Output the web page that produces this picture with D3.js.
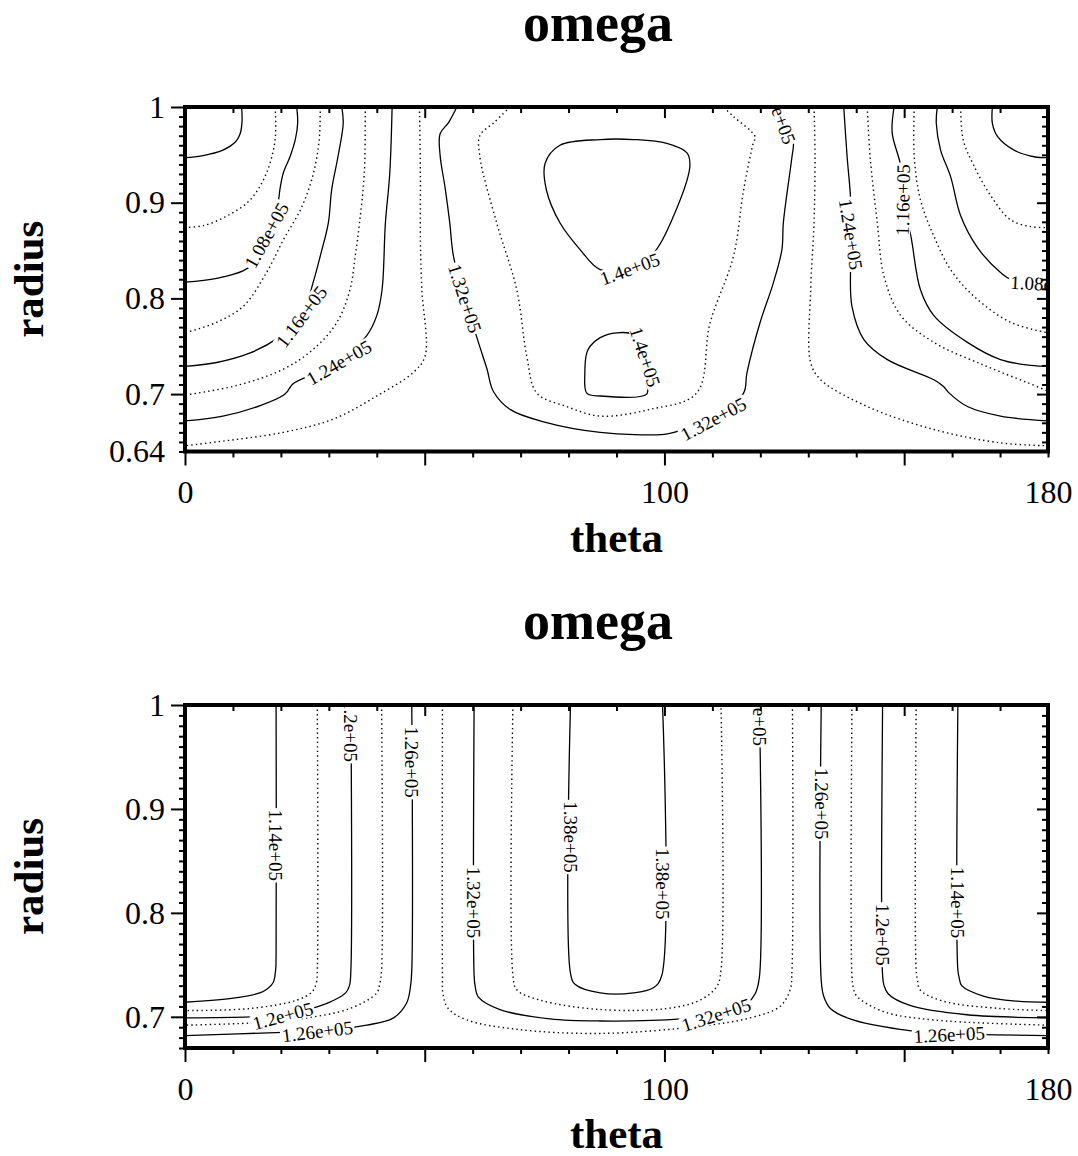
<!DOCTYPE html>
<html>
<head>
<meta charset="utf-8">
<script src="https://cdn.jsdelivr.net/npm/d3@7"></script>
<style>
  html, body { margin: 0; padding: 0; background: #fff; overflow: hidden; }
  svg { display: block; }
  svg text { font-family: "Liberation Serif", "Times New Roman", serif; fill: #000; }
</style>
</head>
<body>
<script>
// ---- data ----
var thetaDomain = [0, 180];
var thetaLabelTicks = [0, 100, 180];
var thetaMajorTicks = [0, 50, 100, 150];
var thetaMinorTicks = d3.range(10, 181, 10).filter(d => d % 50 !== 0);

var topRadiusDomain = [0.64, 1];
var topRadiusLabels = [1, 0.9, 0.8, 0.7, 0.64];
var bottomRadiusDomain = [0.67, 1];
var bottomRadiusLabels = [1, 0.9, 0.8, 0.7];

// contour levels (every other one drawn dotted)
var topLevels = [1.00e5, 1.04e5, 1.08e5, 1.12e5, 1.16e5, 1.20e5, 1.24e5, 1.28e5, 1.32e5, 1.36e5, 1.40e5];
var bottomLevels = [1.14e5, 1.17e5, 1.20e5, 1.23e5, 1.26e5, 1.29e5, 1.32e5, 1.35e5, 1.38e5];

// top panel contours: [theta, radius]
var topContours = [
  {level: 1.00e5, pts: [[11.8,1],[11.9,0.985],[11.5,0.972],[10.6,0.964],[7.9,0.955],[3.5,0.949],[0,0.947]]},
  {level: 1.04e5, pts: [[18.8,1],[18.8,0.966],[17.0,0.931],[13.6,0.903],[8.7,0.886],[3.8,0.876],[0,0.874]]},
  {level: 1.08e5, pts: [[23.3,1],[23.5,0.983],[23.0,0.966],[21.9,0.948],[20.5,0.931],[19.8,0.914],[19.4,0.900],[17.0,0.866],[14.3,0.837],[12.2,0.829],[6.6,0.821],[0,0.817]]},
  {level: 1.12e5, pts: [[28.2,1],[28.0,0.966],[26.8,0.931],[24.4,0.896],[20.5,0.861],[17.0,0.827],[12.2,0.792],[6.6,0.775],[0,0.764]]},
  {level: 1.16e5, pts: [[32.7,1],[33.0,0.983],[31.9,0.948],[30.6,0.914],[29.9,0.879],[28.2,0.844],[26.8,0.818],[24.3,0.781],[19.5,0.759],[13.6,0.743],[6.6,0.733],[0,0.729]]},
  {level: 1.20e5, pts: [[37.6,1],[37.4,0.931],[36.4,0.879],[35.5,0.844],[34.4,0.809],[31.7,0.775],[26.8,0.747],[20.5,0.726],[10.8,0.709],[0,0.699]]},
  {level: 1.24e5, pts: [[43.2,1],[42.7,0.930],[41.8,0.879],[41.1,0.809],[40.0,0.782],[37.9,0.761],[32.1,0.733],[22.6,0.711],[21.4,0.703],[20.6,0.699],[15.7,0.688],[7.9,0.677],[0,0.672]]},
  {level: 1.28e5, pts: [[48.9,1],[49.1,0.930],[49.1,0.860],[49.4,0.809],[50.1,0.740],[47.7,0.723],[40.0,0.698],[31.0,0.674],[20.5,0.660],[6.6,0.650],[0,0.646]]},
  {level: 1.32e5, pts: [[56.7,1],[55.0,0.984],[53.2,0.972],[53.2,0.950],[54.3,0.914],[55.2,0.880],[56.0,0.844],[58.4,0.800],[61.2,0.754],[63.0,0.726],[64.3,0.703],[67.8,0.684],[74.8,0.671],[86.6,0.660],[100,0.658],[103.3,0.662],[110.2,0.673],[116.5,0.701],[117.2,0.722],[119.9,0.774],[122.7,0.816],[124.5,0.851],[124.8,0.879],[126.6,0.948],[126.9,0.962],[126.2,0.974],[123.5,1]]},
  {level: 1.36e5, pts: [[67.8,1],[64.5,0.984],[61.5,0.970],[61.5,0.948],[65.0,0.879],[69.2,0.809],[71.3,0.739],[73.4,0.701],[79.6,0.687],[86.6,0.677],[97.0,0.684],[106.7,0.701],[109.5,0.774],[114.4,0.844],[116.5,0.913],[118.5,0.962],[118.9,0.969],[114.4,0.990],[112.3,1]]},
  {level: 1.40e5, closed: true, pts: [[86.6,0.966],[78.2,0.960],[75.1,0.941],[75.4,0.913],[78.2,0.879],[82.4,0.851],[86.6,0.830],[92.8,0.831],[97.7,0.847],[101.9,0.886],[105.3,0.938],[104.7,0.952],[100.5,0.962],[93.6,0.966]]},
  {level: 1.40e5, closed: true, pts: [[96.3,0.700],[96.3,0.712],[95.5,0.740],[93.5,0.762],[90.0,0.764],[86.6,0.759],[84.5,0.750],[83.8,0.743],[83.4,0.722],[83.8,0.701],[86.6,0.698]]},
  {level: 1.28e5, pts: [[131.2,1],[131.4,0.948],[131.2,0.879],[130.5,0.809],[130.5,0.733],[132.6,0.715],[142.3,0.687],[156.2,0.663],[170.1,0.649],[180,0.646]]},
  {level: 1.24e5, pts: [[137.4,1],[138.1,0.948],[138.8,0.906],[138.9,0.867],[138.8,0.830],[139.1,0.792],[141.6,0.757],[146.5,0.736],[156.2,0.715],[158.2,0.708],[159.4,0.701],[163.2,0.687],[170.1,0.677],[180,0.672]]},
  {level: 1.20e5, pts: [[142.3,1],[142.9,0.948],[144.4,0.879],[145.8,0.823],[149.3,0.782],[156.2,0.754],[166.7,0.730],[175.7,0.712],[180,0.703]]},
  {level: 1.16e5, pts: [[147.9,1],[147.5,0.973],[149.3,0.938],[149.7,0.903],[151.4,0.865],[153.4,0.809],[156.2,0.782],[163.2,0.754],[170.1,0.736],[176.4,0.730],[180,0.729]]},
  {level: 1.12e5, pts: [[152.1,1],[152.1,0.948],[153.4,0.903],[156.2,0.865],[159.7,0.830],[164.6,0.802],[172.2,0.775],[180,0.764]]},
  {level: 1.08e5, pts: [[156.9,1],[156.7,0.983],[157.6,0.955],[159.7,0.927],[161.8,0.886],[165.3,0.853],[170.1,0.827],[172.2,0.820],[180,0.815]]},
  {level: 1.04e5, pts: [[161.8,1],[162.3,0.966],[164.6,0.938],[168.1,0.907],[172.2,0.882],[176.4,0.875],[180,0.874]]},
  {level: 1.00e5, pts: [[168.4,1],[168.4,0.983],[169.5,0.969],[172.9,0.955],[177.1,0.948],[180,0.947]]}
];

// top panel inline labels: text, theta, radius, angle
var topLabels = [
  ["1.08e+05", 17.0, 0.866, -61],
  ["1.16e+05", 24.3, 0.781, -53],
  ["1.24e+05", 32.1, 0.733, -30],
  ["1.32e+05", 58.4, 0.800, 72],
  ["1.32e+05", 110.2, 0.674, -28],
  ["1.32e+05", 123.7, 0.997, 70],
  ["1.4e+05", 92.8, 0.831, -20],
  ["1.4e+05", 96.0, 0.739, 72],
  ["1.24e+05", 138.9, 0.867, 81],
  ["1.16e+05", 149.7, 0.903, -89],
  ["1.08e+05", 179.6, 0.815, 3]
];

// bottom panel contours
var bottomContours = [
  {level: 1.14e5, pts: [[19.0,1],[19.0,0.760],[18.9,0.745],[18.4,0.733],[17.2,0.727],[15.6,0.723],[10.1,0.718],[0,0.714]]},
  {level: 1.17e5, pts: [[27.6,1],[27.6,0.745],[27.4,0.733],[26.5,0.724],[23.3,0.716],[13.6,0.708],[0,0.706]]},
  {level: 1.20e5, pts: [[34.6,1],[34.6,0.745],[34.3,0.730],[33.5,0.723],[29.6,0.713],[20.5,0.702],[13.6,0.700],[0,0.699]]},
  {level: 1.23e5, pts: [[41.0,1],[41.0,0.745],[40.6,0.731],[40.0,0.723],[34.4,0.708],[24.0,0.698],[13.6,0.694],[0,0.692]]},
  {level: 1.26e5, pts: [[47.3,1],[47.3,0.745],[47.0,0.728],[46.2,0.713],[43.5,0.699],[37.9,0.692],[27.6,0.686],[20.5,0.685],[0,0.682]]},
  {level: 1.29e5, pts: [[53.7,1],[53.7,0.740],[53.8,0.722],[54.9,0.708],[58.8,0.697],[69.2,0.688],[86.6,0.684],[107.4,0.691],[117.9,0.699],[124.1,0.710],[126.2,0.726],[126.6,0.745],[126.7,1]]},
  {level: 1.32e5, pts: [[60.3,1],[60.3,0.740],[60.5,0.730],[61.2,0.719],[65.7,0.707],[76.1,0.698],[86.6,0.696],[103.3,0.698],[110.6,0.703],[117.2,0.713],[118.9,0.722],[119.8,0.738],[119.8,1]]},
  {level: 1.35e5, pts: [[68.4,1],[68.4,0.740],[69.2,0.726],[74.1,0.716],[86.6,0.707],[100.5,0.708],[107.4,0.716],[110.9,0.729],[111.8,0.745],[111.8,1]]},
  {level: 1.38e5, pts: [[80.4,1],[80.4,0.742],[81.4,0.731],[86.6,0.723],[93.5,0.723],[97.7,0.728],[99.4,0.739],[99.6,1]]},
  {level: 1.26e5, pts: [[132.7,1],[132.7,0.735],[133.2,0.720],[134.6,0.708],[138.7,0.698],[149.1,0.688],[159.4,0.684],[180,0.682]]},
  {level: 1.23e5, pts: [[139.1,1],[139.1,0.740],[139.4,0.728],[140.1,0.720],[145.7,0.705],[156.1,0.697],[180,0.692]]},
  {level: 1.20e5, pts: [[145.5,1],[145.5,0.740],[145.8,0.730],[146.7,0.722],[151.2,0.711],[163.1,0.702],[180,0.699]]},
  {level: 1.17e5, pts: [[152.5,1],[152.5,0.745],[152.8,0.735],[153.3,0.726],[158.2,0.715],[170.0,0.708],[180,0.706]]},
  {level: 1.14e5, pts: [[161.2,1],[161.2,0.745],[161.5,0.737],[162.0,0.730],[166.5,0.720],[173.5,0.715],[180,0.714]]}
];

var bottomLabels = [
  ["1.14e+05", 19.0, 0.865, 90],
  ["1.2e+05", 34.6, 0.975, 90],
  ["1.2e+05", 20.4, 0.701, -15],
  ["1.26e+05", 47.3, 0.945, 90],
  ["1.26e+05", 27.6, 0.686, -7],
  ["1.32e+05", 60.3, 0.810, 90],
  ["1.38e+05", 80.4, 0.873, 90],
  ["1.38e+05", 99.6, 0.828, 90],
  ["1.32e+05", 110.8, 0.702, -18],
  ["1.32e+05", 119.8, 0.995, 90],
  ["1.26e+05", 132.7, 0.905, 90],
  ["1.2e+05", 145.5, 0.779, 90],
  ["1.14e+05", 161.2, 0.810, 90],
  ["1.26e+05", 159.4, 0.683, -3]
];

// ---- drawing ----
var svgWidth = 1078;
var svgHeight = 1156;
var plotLeft = 185, plotRight = 1048;

var svg = d3.select("body")
            .append("svg")
            .attr("width", svgWidth)
            .attr("height", svgHeight);

var x = d3.scaleLinear().domain(thetaDomain).range([plotLeft, plotRight]);

function drawPanel(id, top, bottom, rDomain, rLabels, levels, contours, labels) {
  var y = d3.scaleLinear().domain(rDomain).range([bottom, top]);
  var g = svg.append("g");

  // clip to plot area
  svg.append("clipPath")
     .attr("id", id)
     .append("rect")
     .attr("x", plotLeft).attr("y", top)
     .attr("width", plotRight - plotLeft).attr("height", bottom - top);

  var line = d3.line()
               .x(d => x(d[0]))
               .y(d => y(d[1]))
               .curve(d3.curveCatmullRom.alpha(0.5));
  var loop = d3.line()
               .x(d => x(d[0]))
               .y(d => y(d[1]))
               .curve(d3.curveCatmullRomClosed.alpha(0.5));

  var plot = g.append("g").attr("clip-path", `url(#${id})`);

  plot.selectAll("path.contour")
      .data(contours)
      .enter()
      .append("path")
      .classed("contour", true)
      .attr("d", d => d.closed ? loop(d.pts) : line(d.pts))
      .attr("fill", "none")
      .attr("stroke", "#000")
      .attr("stroke-width", d => levels.indexOf(d.level) % 2 ? 1.4 : 1.3)
      .attr("stroke-dasharray", d => levels.indexOf(d.level) % 2 ? "1.4,3.2" : null);

  // inline labels with a white gap behind them
  var lab = plot.selectAll("g.lab")
                .data(labels)
                .enter()
                .append("g")
                .classed("lab", true)
                .attr("transform", d => `translate(${x(d[1])},${y(d[2])}) rotate(${d[3]})`);
  lab.append("text")
     .attr("text-anchor", "middle")
     .attr("dy", "0.35em")
     .attr("font-size", 19)
     .text(d => d[0]);
  lab.each(function() {
    var t = d3.select(this).select("text");
    var w = t.node().getComputedTextLength() + 3;
    d3.select(this).insert("rect", "text")
      .attr("x", -w / 2).attr("y", -8)
      .attr("width", w).attr("height", 16)
      .attr("fill", "#fff");
  });

  // ticks
  var majorR = d3.range(0.7, 1.0001, 0.1).map(d => +d.toFixed(2));
  var minorR = d3.range(Math.round(rDomain[0] * 100), 101)
                 .map(d => d / 100)
                 .filter(d => majorR.indexOf(d) < 0);

  function tickStyle(sel) {
    sel.select(".domain").remove();
    sel.selectAll("line").attr("stroke", "#000").attr("stroke-width", 2);
  }

  // left (outside)
  g.append("g").attr("transform", `translate(${plotLeft},0)`)
   .call(d3.axisLeft(y).tickValues(majorR).tickSize(14).tickFormat("")).call(tickStyle);
  g.append("g").attr("transform", `translate(${plotLeft},0)`)
   .call(d3.axisLeft(y).tickValues(minorR).tickSize(6).tickFormat("")).call(tickStyle);
  var yl = g.append("g").attr("transform", `translate(${plotLeft},0)`)
   .call(d3.axisLeft(y).tickValues(rLabels).tickSize(0).tickPadding(20).tickFormat(d3.format("")));
  yl.select(".domain").remove();
  yl.selectAll("text").attr("font-size", 32).attr("font-family", "Liberation Serif");

  // right (inside)
  g.append("g").attr("transform", `translate(${plotRight},0)`)
   .call(d3.axisRight(y).tickValues(majorR).tickSize(-11).tickFormat("")).call(tickStyle);
  g.append("g").attr("transform", `translate(${plotRight},0)`)
   .call(d3.axisRight(y).tickValues(minorR).tickSize(-6).tickFormat("")).call(tickStyle);

  // bottom (outside)
  g.append("g").attr("transform", `translate(0,${bottom})`)
   .call(d3.axisBottom(x).tickValues(thetaMajorTicks).tickSize(14).tickFormat("")).call(tickStyle);
  g.append("g").attr("transform", `translate(0,${bottom})`)
   .call(d3.axisBottom(x).tickValues(thetaMinorTicks).tickSize(6).tickFormat("")).call(tickStyle);
  var xl = g.append("g").attr("transform", `translate(0,${bottom})`)
   .call(d3.axisBottom(x).tickValues(thetaLabelTicks).tickSize(0).tickPadding(29).tickFormat(d3.format("")));
  xl.select(".domain").remove();
  xl.selectAll("text").attr("font-size", 32).attr("font-family", "Liberation Serif");

  // top (inside)
  g.append("g").attr("transform", `translate(0,${top})`)
   .call(d3.axisTop(x).tickValues(thetaMajorTicks).tickSize(-11).tickFormat("")).call(tickStyle);
  g.append("g").attr("transform", `translate(0,${top})`)
   .call(d3.axisTop(x).tickValues(thetaMinorTicks).tickSize(-6).tickFormat("")).call(tickStyle);

  // frame
  g.append("rect")
   .attr("x", plotLeft).attr("y", top)
   .attr("width", plotRight - plotLeft).attr("height", bottom - top)
   .attr("fill", "none").attr("stroke", "#000").attr("stroke-width", 4);

  // titles
  g.append("text")
   .attr("x", 598).attr("y", top - 66)
   .attr("text-anchor", "middle")
   .attr("font-size", 54).attr("font-weight", "bold")
   .text("omega");
  g.append("text")
   .attr("x", (plotLeft + plotRight) / 2).attr("y", bottom + 100)
   .attr("text-anchor", "middle")
   .attr("font-size", 43).attr("font-weight", "bold")
   .text("theta");
  g.append("text")
   .attr("transform", `translate(43,${(top + bottom) / 2}) rotate(-90)`)
   .attr("text-anchor", "middle")
   .attr("font-size", 43).attr("font-weight", "bold")
   .text("radius");
}

drawPanel("clipTop", 107, 451.5, topRadiusDomain, topRadiusLabels, topLevels, topContours, topLabels);
drawPanel("clipBottom", 705, 1048, bottomRadiusDomain, bottomRadiusLabels, bottomLevels, bottomContours, bottomLabels);
</script>
</body>
</html>
